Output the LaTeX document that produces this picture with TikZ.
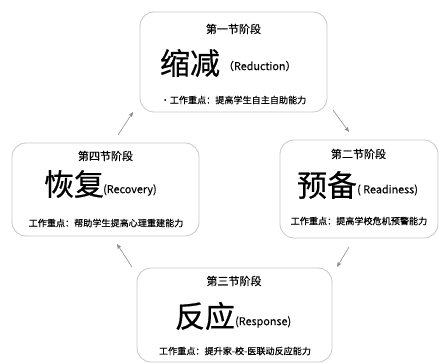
\documentclass[tikz,border=0pt]{standalone}
\usepackage{fontspec}
\setmainfont{Noto Sans CJK SC}
\newfontfamily\heavycjk{Noto Sans CJK SC}[FakeBold=0.6]
\newfontfamily\semicjk{Noto Sans CJK SC}[FakeBold=0.35]
\usetikzlibrary{arrows.meta}
\tikzset{
  stagebox/.style={draw=black!22, line width=0.8pt, rounded corners=14pt, inner sep=0pt},
  ttl/.style={font=\semicjk\fontsize{11}{11}\selectfont, inner sep=0pt},
  big/.style={font=\heavycjk\fontsize{30}{30}\selectfont, inner sep=0pt},
  eng/.style={font=\semicjk\fontsize{10.8}{12}\selectfont, inner sep=0pt},
  focus/.style={font=\semicjk\fontsize{9.1}{9}\selectfont, inner sep=0pt},
  flow/.style={draw=black!45, line width=0.6pt, -{Stealth[length=5pt,width=4pt,inset=1pt]}}
}
\begin{document}
\begin{tikzpicture}[x=1pt,y=-1pt]
\useasboundingbox (0,0) rectangle (439,363);
% boxes
\node[stagebox, minimum width=187pt, minimum height=100pt] (b1) at (233.5,62) {};
\node[stagebox, minimum width=158pt, minimum height=98pt] (b2) at (359,189) {};
\node[stagebox, minimum width=195pt, minimum height=94pt] (b3) at (234.5,315) {};
\node[stagebox, minimum width=187pt, minimum height=93pt] (b4) at (105.5,189.5) {};
% stage 1
\node[ttl] (t1) at (233.5,29) {第一节阶段};
\node[big] (k1) at (190,63) {缩减};
\node[eng, anchor=west] (e1) at (223,66) {（Reduction）};
\node[focus] (f1) at (233.5,100) {•工作重点：提高学生自主自助能力};
% stage 2
\node[ttl] (t2) at (358.5,154) {第二节阶段};
\node[big] (k2) at (327,185) {预备};
\node[eng, anchor=west] (e2) at (357,190) {( Readiness)};
\node[focus] (f2) at (359,221) {工作重点：提高学校危机预警能力};
% stage 3
\node[ttl] (t3) at (234,281) {第三节阶段};
\node[big] (k3) at (205,316) {反应};
\node[eng, anchor=west] (e3) at (235,322) {(Response)};
\node[focus] (f3) at (235,351) {工作重点：提升家-校-医联动反应能力};
% stage 4
\node[ttl] (t4) at (105.5,156) {第四节阶段};
\node[big] (k4) at (74,184) {恢复};
\node[eng, anchor=west] (e4) at (103,190) {(Recovery)};
\node[focus] (f4) at (106,223) {工作重点：帮助学生提高心理重建能力};
% arrows
\coordinate (a1s) at (333,110); \coordinate (a1e) at (349,132);
\coordinate (a2s) at (349,247); \coordinate (a2e) at (337,267);
\coordinate (a3s) at (132,267); \coordinate (a3e) at (117,244);
\coordinate (a4s) at (118,135); \coordinate (a4e) at (133,112);
\draw[flow] (a1s) -- (a1e);
\draw[flow] (a2s) -- (a2e);
\draw[flow] (a3s) -- (a3e);
\draw[flow] (a4s) -- (a4e);
\end{tikzpicture}
\end{document}
